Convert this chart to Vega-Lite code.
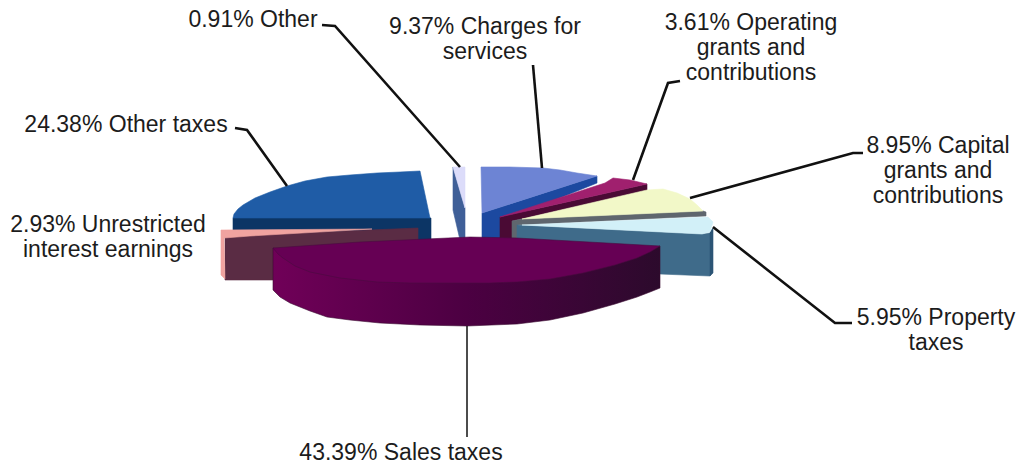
{"$schema":"https://vega.github.io/schema/vega-lite/v6.json","width":1019,"height":466,"padding":0,"autosize":"none","background":"#ffffff","view":{"stroke":null},
"datasets":{
"faces":[
{"part":"Other taxes side","seq":1,"x":233,"y":218},{"part":"Other taxes side","seq":2,"x":431,"y":218},{"part":"Other taxes side","seq":3,"x":431,"y":245},{"part":"Other taxes side","seq":4,"x":233,"y":245},
{"part":"Other taxes top","seq":1,"x":420,"y":171},{"part":"Other taxes top","seq":2,"x":430,"y":218},{"part":"Other taxes top","seq":3,"x":233,"y":218},{"part":"Other taxes top","seq":4,"x":234,"y":214},{"part":"Other taxes top","seq":5,"x":238,"y":209},{"part":"Other taxes top","seq":6,"x":243,"y":205},{"part":"Other taxes top","seq":7,"x":255,"y":198},{"part":"Other taxes top","seq":8,"x":270,"y":192},{"part":"Other taxes top","seq":9,"x":287,"y":186},{"part":"Other taxes top","seq":10,"x":305,"y":181},{"part":"Other taxes top","seq":11,"x":327,"y":177},{"part":"Other taxes top","seq":12,"x":350,"y":175},{"part":"Other taxes top","seq":13,"x":377,"y":173},{"part":"Other taxes top","seq":14,"x":400,"y":172},
{"part":"Unrestricted side","seq":1,"x":225,"y":236},{"part":"Unrestricted side","seq":2,"x":418,"y":228},{"part":"Unrestricted side","seq":3,"x":418,"y":272},{"part":"Unrestricted side","seq":4,"x":280,"y":280},{"part":"Unrestricted side","seq":5,"x":225,"y":280},
{"part":"Unrestricted top","seq":1,"x":221,"y":230},{"part":"Unrestricted top","seq":2,"x":372,"y":229},{"part":"Unrestricted top","seq":3,"x":250,"y":236},{"part":"Unrestricted top","seq":4,"x":224,"y":238},{"part":"Unrestricted top","seq":5,"x":225,"y":279},{"part":"Unrestricted top","seq":6,"x":221,"y":275},
{"part":"Other side","seq":1,"x":453,"y":167},{"part":"Other side","seq":2,"x":465,"y":208},{"part":"Other side","seq":3,"x":465,"y":240},{"part":"Other side","seq":4,"x":460,"y":240},{"part":"Other side","seq":5,"x":453,"y":210},
{"part":"Other top","seq":1,"x":453,"y":167},{"part":"Other top","seq":2,"x":465,"y":167},{"part":"Other top","seq":3,"x":465,"y":208},
{"part":"Charges side","seq":1,"x":482,"y":213},{"part":"Charges side","seq":2,"x":597,"y":176},{"part":"Charges side","seq":3,"x":597,"y":183},{"part":"Charges side","seq":4,"x":500,"y":222},{"part":"Charges side","seq":5,"x":500,"y":242},{"part":"Charges side","seq":6,"x":482,"y":242},
{"part":"Charges top","seq":1,"x":481,"y":167},{"part":"Charges top","seq":2,"x":510,"y":167},{"part":"Charges top","seq":3,"x":543,"y":168},{"part":"Charges top","seq":4,"x":560,"y":170},{"part":"Charges top","seq":5,"x":577,"y":173},{"part":"Charges top","seq":6,"x":597,"y":176},{"part":"Charges top","seq":7,"x":482,"y":213},
{"part":"Operating side","seq":1,"x":500,"y":217},{"part":"Operating side","seq":2,"x":647,"y":184},{"part":"Operating side","seq":3,"x":647,"y":191},{"part":"Operating side","seq":4,"x":512,"y":221},{"part":"Operating side","seq":5,"x":512,"y":242},{"part":"Operating side","seq":6,"x":500,"y":242},
{"part":"Operating top","seq":1,"x":500,"y":217},{"part":"Operating top","seq":2,"x":605,"y":183},{"part":"Operating top","seq":3,"x":613,"y":178},{"part":"Operating top","seq":4,"x":630,"y":180},{"part":"Operating top","seq":5,"x":647,"y":184},
{"part":"Capital side","seq":1,"x":512,"y":221},{"part":"Capital side","seq":2,"x":522,"y":219},{"part":"Capital side","seq":3,"x":703,"y":211},{"part":"Capital side","seq":4,"x":706,"y":212},{"part":"Capital side","seq":5,"x":706,"y":216},{"part":"Capital side","seq":6,"x":517,"y":225},{"part":"Capital side","seq":7,"x":517,"y":242},{"part":"Capital side","seq":8,"x":512,"y":242},
{"part":"Capital top","seq":1,"x":522,"y":219},{"part":"Capital top","seq":2,"x":647,"y":190},{"part":"Capital top","seq":3,"x":663,"y":189},{"part":"Capital top","seq":4,"x":677,"y":193},{"part":"Capital top","seq":5,"x":690,"y":199},{"part":"Capital top","seq":6,"x":697,"y":205},{"part":"Capital top","seq":7,"x":703,"y":211},
{"part":"Property side","seq":1,"x":517,"y":225},{"part":"Property side","seq":2,"x":702,"y":234},{"part":"Property side","seq":3,"x":710,"y":233},{"part":"Property side","seq":4,"x":710,"y":276},{"part":"Property side","seq":5,"x":660,"y":274},{"part":"Property side","seq":6,"x":600,"y":268},{"part":"Property side","seq":7,"x":517,"y":242},
{"part":"Property edge","seq":1,"x":710,"y":232},{"part":"Property edge","seq":2,"x":713,"y":228},{"part":"Property edge","seq":3,"x":713,"y":273},{"part":"Property edge","seq":4,"x":710,"y":276},
{"part":"Property top","seq":1,"x":522,"y":225},{"part":"Property top","seq":2,"x":708,"y":217},{"part":"Property top","seq":3,"x":713,"y":222},{"part":"Property top","seq":4,"x":710,"y":232},{"part":"Property top","seq":5,"x":702,"y":234},
{"part":"Sales top","seq":1,"x":273,"y":248},{"part":"Sales top","seq":2,"x":360,"y":242},{"part":"Sales top","seq":3,"x":470,"y":237},{"part":"Sales top","seq":4,"x":517,"y":238},{"part":"Sales top","seq":5,"x":660,"y":246},{"part":"Sales top","seq":6,"x":650,"y":252},{"part":"Sales top","seq":7,"x":637,"y":258},{"part":"Sales top","seq":8,"x":615,"y":265},{"part":"Sales top","seq":9,"x":583,"y":273},{"part":"Sales top","seq":10,"x":550,"y":279},{"part":"Sales top","seq":11,"x":517,"y":282},{"part":"Sales top","seq":12,"x":490,"y":283},{"part":"Sales top","seq":13,"x":450,"y":283},{"part":"Sales top","seq":14,"x":410,"y":283},{"part":"Sales top","seq":15,"x":377,"y":282},{"part":"Sales top","seq":16,"x":340,"y":278},{"part":"Sales top","seq":17,"x":310,"y":272},{"part":"Sales top","seq":18,"x":295,"y":266},{"part":"Sales top","seq":19,"x":283,"y":258},{"part":"Sales top","seq":20,"x":278,"y":254}
],
"salesSide":[
{"part":"Sales side","seq":1,"x":273,"y":248},{"part":"Sales side","seq":2,"x":340,"y":270},{"part":"Sales side","seq":3,"x":467,"y":275},{"part":"Sales side","seq":4,"x":600,"y":265},{"part":"Sales side","seq":5,"x":660,"y":246},{"part":"Sales side","seq":6,"x":660,"y":288},{"part":"Sales side","seq":7,"x":650,"y":292},{"part":"Sales side","seq":8,"x":637,"y":297},{"part":"Sales side","seq":9,"x":615,"y":304},{"part":"Sales side","seq":10,"x":583,"y":313},{"part":"Sales side","seq":11,"x":550,"y":320},{"part":"Sales side","seq":12,"x":517,"y":324},{"part":"Sales side","seq":13,"x":467,"y":326},{"part":"Sales side","seq":14,"x":420,"y":325},{"part":"Sales side","seq":15,"x":380,"y":323},{"part":"Sales side","seq":16,"x":350,"y":320},{"part":"Sales side","seq":17,"x":327,"y":317},{"part":"Sales side","seq":18,"x":310,"y":311},{"part":"Sales side","seq":19,"x":290,"y":303},{"part":"Sales side","seq":20,"x":280,"y":297},{"part":"Sales side","seq":21,"x":273,"y":290}
],
"leaders":[
{"to":"Other","seq":1,"x":322,"y":25},{"to":"Other","seq":2,"x":335,"y":26},{"to":"Other","seq":3,"x":460,"y":167},
{"to":"Charges","seq":1,"x":533,"y":65},{"to":"Charges","seq":2,"x":542,"y":168},
{"to":"Operating","seq":1,"x":680,"y":81},{"to":"Operating","seq":2,"x":668,"y":83},{"to":"Operating","seq":3,"x":633,"y":180},
{"to":"Capital","seq":1,"x":863,"y":153},{"to":"Capital","seq":2,"x":853,"y":153},{"to":"Capital","seq":3,"x":690,"y":198},
{"to":"Property","seq":1,"x":713,"y":227},{"to":"Property","seq":2,"x":835,"y":323},{"to":"Property","seq":3,"x":852,"y":323},
{"to":"Other taxes","seq":1,"x":235,"y":128},{"to":"Other taxes","seq":2,"x":247,"y":130},{"to":"Other taxes","seq":3,"x":287,"y":186}
],
"salesLeader":[{"to":"Sales","seq":1,"x":467,"y":326},{"to":"Sales","seq":2,"x":467,"y":437}],
"labels":[
{"share":0.91,"name":"0.91% Other","x":253,"y":20},
{"share":9.37,"name":"9.37% Charges for\nservices","x":485,"y":27},
{"share":3.61,"name":"3.61% Operating\ngrants and\ncontributions","x":751,"y":23},
{"share":8.95,"name":"8.95% Capital\ngrants and\ncontributions","x":938,"y":146},
{"share":24.38,"name":"24.38% Other taxes","x":126,"y":125},
{"share":2.93,"name":"2.93% Unrestricted\ninterest earnings","x":108,"y":225},
{"share":5.95,"name":"5.95% Property\ntaxes","x":936,"y":318},
{"share":43.39,"name":"43.39% Sales taxes","x":401,"y":453}
]},
"encoding":{"x":{"field":"x","type":"quantitative","scale":{"domain":[0,1019],"nice":false,"zero":false},"axis":null},"y":{"field":"y","type":"quantitative","scale":{"domain":[466,0],"nice":false,"zero":false},"axis":null}},
"layer":[
{"data":{"name":"faces"},"transform":[{"filter":"datum.part !== 'Sales top'"}],
 "mark":{"type":"line","strokeWidth":0.6,"interpolate":"linear-closed"},
 "encoding":{"order":{"field":"seq","type":"quantitative"},
 "fill":{"field":"part","type":"nominal","legend":null,"scale":{"domain":["Other taxes side","Other taxes top","Unrestricted side","Unrestricted top","Other side","Other top","Charges side","Charges top","Operating side","Operating top","Capital side","Capital top","Property side","Property edge","Property top"],"range":["#0c3565","#1f5ca6","#5a2c44","#f0a3a0","#3f5f98","#dcdcfa","#1c49a0","#6d84d4","#4a0a34","#a0206e","#5f666e","#f2f8c8","#3f6b8a","#2c5575","#d2f0f8"]}},
 "stroke":{"field":"part","type":"nominal","legend":null,"scale":{"domain":["Other taxes side","Other taxes top","Unrestricted side","Unrestricted top","Other side","Other top","Charges side","Charges top","Operating side","Operating top","Capital side","Capital top","Property side","Property edge","Property top"],"range":["#0c3565","#1f5ca6","#5a2c44","#f0a3a0","#3f5f98","#dcdcfa","#1c49a0","#6d84d4","#4a0a34","#a0206e","#5f666e","#f2f8c8","#3f6b8a","#2c5575","#d2f0f8"]}}}},
{"data":{"name":"salesSide"},
 "mark":{"type":"line","strokeWidth":0.6,"stroke":"#3a0a30","interpolate":"linear-closed","fill":{"gradient":"linear","x1":0,"y1":0,"x2":1,"y2":0,"stops":[{"offset":0,"color":"#700058"},{"offset":0.5,"color":"#4c0042"},{"offset":1,"color":"#2c0a2c"}]}},
 "encoding":{"order":{"field":"seq","type":"quantitative"}}},
{"data":{"name":"faces"},"transform":[{"filter":"datum.part === 'Sales top'"}],
 "mark":{"type":"line","strokeWidth":0.6,"stroke":"#4a0a40","fill":"#660054","interpolate":"linear-closed"},
 "encoding":{"order":{"field":"seq","type":"quantitative"}}},
{"data":{"name":"leaders"},
 "mark":{"type":"line","color":"#111111","strokeWidth":2.6},
 "encoding":{"order":{"field":"seq","type":"quantitative"},"detail":{"field":"to"}}},
{"data":{"name":"salesLeader"},
 "mark":{"type":"line","color":"#111111","strokeWidth":1.5},
 "encoding":{"order":{"field":"seq","type":"quantitative"}}},
{"data":{"name":"labels"},
 "mark":{"type":"text","font":"Liberation Sans","fontSize":23,"color":"#1c1c1c","align":"center","baseline":"middle","lineBreak":"\n","lineHeight":25},
 "encoding":{"text":{"field":"name"}}}
]}
